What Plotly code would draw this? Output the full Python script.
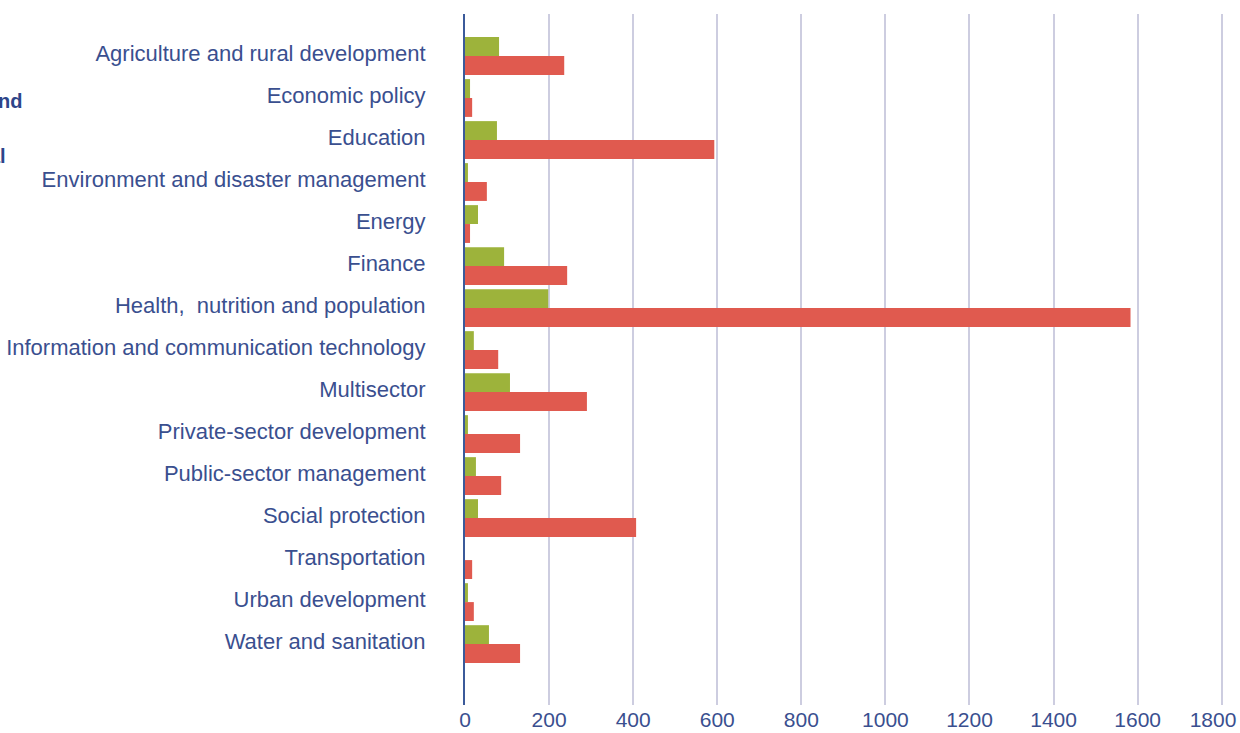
import plotly.graph_objects as go

categories = [
    "Agriculture and rural development",
    "Economic policy",
    "Education",
    "Environment and disaster management",
    "Energy",
    "Finance",
    "Health,  nutrition and population",
    "Information and communication technology",
    "Multisector",
    "Private-sector development",
    "Public-sector management",
    "Social protection",
    "Transportation",
    "Urban development",
    "Water and sanitation",
]
green_values = [81, 12, 76, 7, 31, 93, 198, 21, 107, 7, 26, 31, 0, 7, 57]
red_values = [236, 17, 593, 52, 12, 243, 1583, 79, 290, 131, 86, 407, 17, 21, 131]
x_ticks = [0, 200, 400, 600, 800, 1000, 1200, 1400, 1600, 1800]
x_tick_text = ["0", "200", "400", "600", "800", "1000", "1200", "1400", "1600",
               "1800\u00a0\u00a0\u00a0"]

label_color = "#3a4f8f"
font_family = "Liberation Sans, Arial, sans-serif"

W, H = 1240, 733
ML, MR, MT, MB = 465, 17, 14, 28

fig = go.Figure()
fig.add_trace(go.Bar(y=categories, x=green_values, orientation="h",
                     marker=dict(color="#9db33b", line=dict(width=0)), name="green"))
fig.add_trace(go.Bar(y=categories, x=red_values, orientation="h",
                     marker=dict(color="#e05a4f", line=dict(width=0)), name="red"))

fig.update_layout(
    width=W, height=H,
    margin=dict(l=ML, r=MR, t=MT, b=MB, pad=0, autoexpand=False),
    paper_bgcolor="white", plot_bgcolor="white",
    barmode="group", bargap=0.1, bargroupgap=0,
    showlegend=False,
    font=dict(family=font_family, color=label_color),
)
fig.update_xaxes(
    range=[0, 1803], tickvals=x_ticks, ticktext=x_tick_text,
    showgrid=True, gridcolor="#cdcde0", gridwidth=2,
    zeroline=False, showline=False, tickfont=dict(size=21, color=label_color),
    ticks="", fixedrange=True,
    ticklabeloverflow="allow", automargin=False,
)
fig.update_yaxes(
    type="category", range=[15.45, -1.0], showgrid=False, zeroline=False,
    showline=True, linecolor="#3b5a9a", linewidth=2,
    tickfont=dict(size=22, color=label_color), ticks="", ticklabelstandoff=33,
    ticklabelshift=3, automargin=False,
)

pw = W - ML - MR
ph = H - MT - MB
fig.add_annotation(xref="paper", yref="paper", x=(25 - ML) / pw,
                   y=(H - MB - 101) / ph, xanchor="right", yanchor="middle",
                   text="<b>and</b>", showarrow=False,
                   font=dict(size=20, color="#2e4489", family=font_family))
fig.add_annotation(xref="paper", yref="paper", x=(8 - ML) / pw,
                   y=(H - MB - 156) / ph, xanchor="right", yanchor="middle",
                   text="<b>al</b>", showarrow=False,
                   font=dict(size=20, color="#2e4489", family=font_family))

fig.write_html("out.html", config={"displayModeBar": False},
               post_script="document.body.style.margin='0';document.body.style.overflow='hidden';")
